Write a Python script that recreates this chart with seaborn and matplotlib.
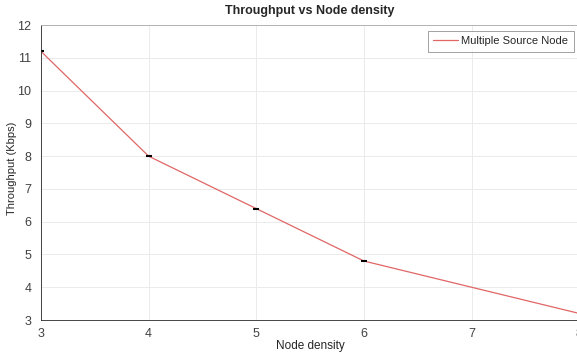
"""
Throughput vs Node density - recriação do gráfico estilo MATLAB.
"""
import matplotlib
matplotlib.use("Agg")
import matplotlib.pyplot as plt
import seaborn as sns
import pandas as pd

# ── Dados ──────────────────────────────────────────────
node_density = [3, 4, 5, 6, 7, 8]
throughput = [11.2, 8.0, 6.4, 4.8, 4.0, 3.2]
marked_x = [3, 4, 5, 6]
marked_y = [11.2, 8.0, 6.4, 4.8]
series_name = "Multiple Source Node"

x_ticks = [3, 4, 5, 6, 7, 8]
y_ticks = [3, 4, 5, 6, 7, 8, 9, 10, 11, 12]

sns.set_style("whitegrid")
plt.rcParams["font.family"] = ["Liberation Sans", "DejaVu Sans"]

df = pd.DataFrame({"x": node_density, "y": throughput, "serie": series_name})

fig = plt.figure(figsize=(5.77, 3.54), dpi=100)
ax = fig.add_axes([0.071, 0.096, 0.933, 0.833])

sns.lineplot(data=df, x="x", y="y", hue="serie", palette=["#e06666"],
             linewidth=0.9, ax=ax)
ax.plot(marked_x, marked_y, linestyle="none", marker="_", color="black",
        markersize=4, markeredgewidth=1.5)

ax.set_xlim(3, 8)
ax.set_ylim(3, 12)
ax.set_xticks(x_ticks)
ax.set_yticks(y_ticks)
ax.grid(True, color="#ebebeb", linewidth=0.7)
ax.tick_params(direction="in", length=3, labelsize=9, colors="#404040")
ax.tick_params(axis="x", pad=6)
ax.tick_params(axis="y", pad=7)
for spine in ax.spines.values():
    spine.set_edgecolor("#262626")
    spine.set_linewidth(0.6)
ax.spines["top"].set_edgecolor("#aaaaaa")

ax.set_title("Throughput vs Node density", fontsize=9, fontweight="bold",
             pad=8)
ax.set_xlabel("Node density", fontsize=8.5, color="#262626", labelpad=0)
ax.set_ylabel("Throughput (Kbps)", fontsize=8, color="#262626")
ax.yaxis.set_label_coords(-0.045, 0.515)

leg = ax.legend(loc="upper right", fontsize=8, frameon=True, fancybox=False,
                borderaxespad=0.5, handlelength=2.2, borderpad=0.5,
                handletextpad=0.3)
leg.get_frame().set_edgecolor("#777777")
leg.get_frame().set_linewidth(0.6)

fig.savefig("out.png", dpi=100)
